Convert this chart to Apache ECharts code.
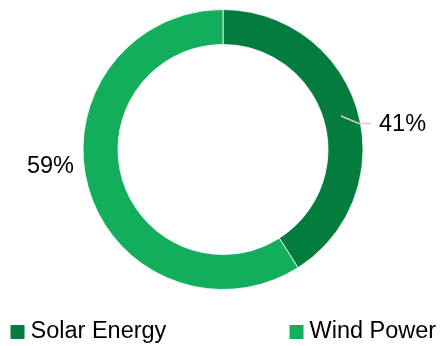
<!DOCTYPE html>
<html>
<head>
<meta charset="utf-8">
<script src="https://cdn.jsdelivr.net/npm/echarts@6/dist/echarts.min.js"></script>
<style>
  html, body { margin: 0; padding: 0; background: #ffffff; }
  #chart { width: 441px; height: 346px; }
</style>
</head>
<body>
<div id="chart"></div>
<script>
// Share of renewable generation by source
const categories = ['Solar Energy', 'Wind Power'];
const shares = [41, 59];
const colors = ['#037c3e', '#13ae5c'];

const FONT = '"Liberation Sans", Arial, sans-serif';

const legendBase = {
  top: 320,
  padding: 0,
  icon: 'rect',
  itemWidth: 16,
  itemHeight: 16,
  itemGap: 5,
  textStyle: { fontFamily: FONT, fontSize: 23.5, color: '#000000' }
};

const chart = echarts.init(document.getElementById('chart'));

chart.setOption({
  backgroundColor: '#ffffff',
  animation: false,
  legend: [
    Object.assign({}, legendBase, { left: 8.5, data: [categories[0]] }),
    Object.assign({}, legendBase, { left: 287.5, data: [categories[1]] })
  ],
  // leader line for the small-slice callout, drawn above the ring
  graphic: [{
    type: 'polyline',
    z: 100,
    silent: true,
    shape: { points: [[341, 116], [359, 123.5], [371, 123.5]] },
    style: { stroke: '#cfcfcf', lineWidth: 1.5, fill: null }
  }],
  series: [{
    type: 'pie',
    center: [223, 149.5],
    radius: [105, 140],
    startAngle: 90,
    clockwise: true,
    avoidLabelOverlap: false,
    itemStyle: { borderColor: '#ffffff', borderWidth: 0.8 },
    label: {
      show: true,
      formatter: '{c}%',
      fontFamily: FONT,
      fontSize: 23.5,
      color: '#000000'
    },
    labelLine: { show: false },
    labelLayout: function (params) {
      if (params.dataIndex === 0) {
        return { x: 379, y: 125, align: 'left', verticalAlign: 'middle' };
      }
      return { x: 74, y: 167, align: 'right', verticalAlign: 'middle' };
    },
    data: categories.map((name, i) => ({
      name: name,
      value: shares[i],
      itemStyle: { color: colors[i] }
    }))
  }]
});
</script>
</body>
</html>
